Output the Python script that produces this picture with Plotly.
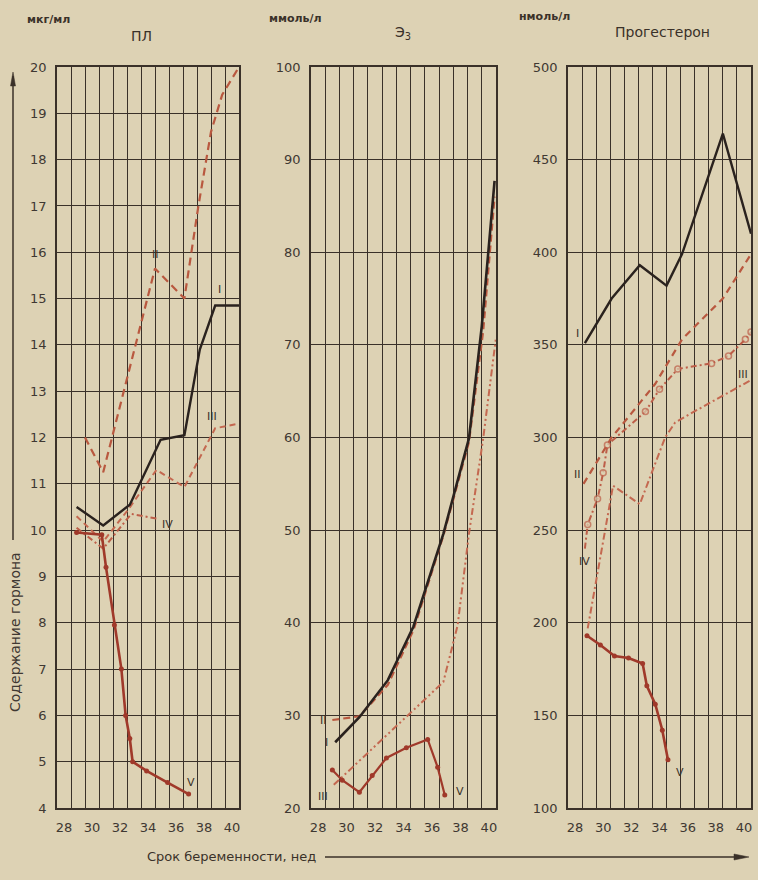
import plotly.graph_objects as go

# ---- data: hormone levels by gestational week ----
# Placental lactogen (ПЛ), мкг/мл
pl_I_wk = [28.9, 30.8, 32.7, 34.9, 36.6, 37.7, 38.8, 40.5]
pl_I_val = [10.5, 10.1, 10.55, 11.95, 12.05, 13.9, 14.85, 14.85]
pl_II_wk = [29.5, 30.8, 34.5, 36.6, 37.6, 38.5, 39.3, 40.5]
pl_II_val = [12.0, 11.25, 15.65, 15.0, 17.0, 18.6, 19.4, 20.0]
pl_III_wk = [28.9, 30.8, 32.6, 34.6, 36.6, 38.8, 40.5]
pl_III_val = [10.3, 9.75, 10.45, 11.3, 10.93, 12.2, 12.3]
pl_IV_wk = [28.9, 30.8, 32.8, 34.6]
pl_IV_val = [10.05, 9.6, 10.35, 10.25]
pl_V_wk = [28.9, 30.7, 31.0, 31.6, 32.1, 32.4, 32.7, 32.9, 33.9, 35.4, 36.9]
pl_V_val = [9.95, 9.9, 9.2, 7.95, 7.0, 6.0, 5.5, 5.0, 4.8, 4.55, 4.3]

# Estriol (Э3), ммоль/л
e3_I_wk = [29.2, 30.9, 32.9, 34.7, 36.8, 38.6, 39.5, 40.4]
e3_I_val = [27.1, 29.8, 33.8, 39.6, 49.6, 59.9, 72.0, 87.7]
e3_II_wk = [29.0, 30.9, 32.9, 34.7, 36.8, 38.6, 39.6, 40.4]
e3_II_val = [29.5, 29.9, 33.3, 39.2, 49.4, 59.5, 71.5, 86.0]
e3_III_wk = [29.1, 36.8, 37.8, 38.6, 39.6, 40.5]
e3_III_val = [22.5, 33.6, 39.7, 49.6, 59.9, 70.8]
e3_V_wk = [29.0, 29.7, 30.9, 31.8, 32.8, 34.2, 35.7, 36.4, 36.9]
e3_V_val = [24.1, 23.0, 21.7, 23.5, 25.4, 26.5, 27.4, 24.4, 21.4]

# Progesterone, нмоль/л
pg_I_wk = [28.7, 30.6, 32.6, 34.5, 35.6, 38.5, 40.5]
pg_I_val = [351, 375, 393, 382, 399, 464, 410]
pg_II_wk = [28.6, 30.6, 32.0, 33.7, 35.6, 38.5, 40.5]
pg_II_val = [275, 300, 313, 329, 353, 375, 399]
pg_III_wk = [28.9, 30.7, 32.6, 34.4, 35.1, 36.7, 40.5]
pg_III_val = [197, 274, 264, 300, 308, 315, 331]
pg_IV_wk = [28.7, 28.9, 29.6, 30.0, 30.3, 33.0, 34.0, 35.3, 37.7, 38.9, 40.1, 40.5]
pg_IV_val = [240, 253, 267, 281, 296, 314, 326, 337, 340, 344, 353, 357]
pg_V_wk = [28.85, 29.8, 30.8, 31.8, 32.8, 33.1, 33.7, 34.2, 34.6]
pg_V_val = [193, 188, 182, 181, 178, 166, 156, 142, 126]

week_ticks = [28, 30, 32, 34, 36, 38, 40]
panel_titles = ["ПЛ", "Э<sub>3</sub>", "Прогестерон"]
panel_units = ["мкг/мл", "ммоль/л", "нмоль/л"]
y_title = "Содержание гормона"
x_title = "Срок беременности, нед"

# ---- styling ----
W, H = 758, 880
PAPER = "#ddd2b4"
INK = "#3a3129"
TXT = "#3f3832"
FONT = "DejaVu Sans"

C_I = "#2a221e"
C_II = "#b9583f"
C_III = "#c46850"
C_IV = "#bd5e48"
C_V = "#a0392a"


def px(x):
    return x / W


def py(y):
    return 1 - y / H


fig = go.Figure()


def add_line(xs, ys, axis, color, width, dash="solid", marker=None):
    kw = dict(x=xs, y=ys, xaxis="x" + axis, yaxis="y" + axis,
              line=dict(color=color, width=width, dash=dash),
              showlegend=False, hoverinfo="skip")
    if marker:
        kw["mode"] = "lines+markers"
        kw["marker"] = marker
    else:
        kw["mode"] = "lines"
    fig.add_trace(go.Scatter(**kw))


dot = dict(size=5, color=C_V)
ring = dict(size=[0] + [6] * (len(pg_IV_wk) - 1), color=PAPER, symbol="circle",
            line=dict(color=C_IV, width=1.5))

# panel 1
add_line(pl_II_wk, pl_II_val, "", C_II, 2.2, "8px,5px")
add_line(pl_III_wk, pl_III_val, "", C_III, 2.0, "6px,4px")
add_line(pl_IV_wk, pl_IV_val, "", C_IV, 2.0, "6px,3px,2px,3px")
add_line(pl_I_wk, pl_I_val, "", C_I, 2.4)
add_line(pl_V_wk, pl_V_val, "", C_V, 2.6, marker=dot)

# panel 2
add_line(e3_II_wk, e3_II_val, "2", C_II, 2.2, "7px,4px")
add_line(e3_I_wk, e3_I_val, "2", C_I, 2.6)
add_line(e3_III_wk, e3_III_val, "2", C_III, 2.0, "7px,3px,2px,3px,2px,3px")
add_line(e3_V_wk, e3_V_val, "2", C_V, 2.2, marker=dot)

# panel 3
add_line(pg_I_wk, pg_I_val, "3", C_I, 2.4)
add_line(pg_II_wk, pg_II_val, "3", C_II, 2.2, "7px,5px")
add_line(pg_III_wk, pg_III_val, "3", C_III, 2.0, "7px,3px,2px,3px")
add_line(pg_IV_wk, pg_IV_val, "3", C_IV, 2.0, "6px,3px,2px,3px", marker=ring)
add_line(pg_V_wk, pg_V_val, "3", C_V, 2.6, marker=dot)

# ---- axes ----
x_domains = [(57, 239), (311, 496), (568, 751)]
y_domain = [py(808), py(67)]
y_specs = [(4, 20, 1), (20, 100, 10), (100, 500, 50)]

layout = dict(
    width=W, height=H,
    margin=dict(l=0, r=0, t=0, b=0, autoexpand=False),
    paper_bgcolor=PAPER, plot_bgcolor=PAPER,
    font=dict(family=FONT, color=TXT),
)
for i in range(3):
    sfx = "" if i == 0 else str(i + 1)
    x0, x1 = x_domains[i]
    lo, hi, step = y_specs[i]
    layout["xaxis" + sfx] = dict(
        domain=[px(x0), px(x1)], range=[27.5, 40.5], anchor="y" + sfx,
        tickvals=week_ticks, ticks="", showgrid=False, zeroline=False,
        showline=True, mirror=True, linecolor=INK, linewidth=1.5,
        tickfont=dict(family=FONT, size=13, color=TXT), ticklabelstandoff=7,
        minor=dict(tick0=27.5, dtick=1, showgrid=True, gridcolor=INK, gridwidth=1, ticks=""),
        fixedrange=True,
    )
    layout["yaxis" + sfx] = dict(
        domain=y_domain, range=[lo, hi], anchor="x" + sfx,
        tick0=lo, dtick=step, ticks="", showgrid=True, gridcolor=INK, gridwidth=1.2,
        zeroline=False, showline=True, mirror=True, linecolor=INK, linewidth=1.5,
        tickfont=dict(family=FONT, size=13, color=TXT), ticklabelstandoff=6,
        fixedrange=True,
    )
fig.update_layout(**layout)

# ---- text ----
ann = []
unit_pos = [(48, 19), (295, 18), (544, 17)]
title_pos = [(141, 36), (403, 33), (662, 32)]
for i in range(3):
    ann.append(dict(x=px(unit_pos[i][0]), y=py(unit_pos[i][1]), xref="paper", yref="paper",
                    xanchor="center", yanchor="middle",
                    text="<b>" + panel_units[i] + "</b>", showarrow=False,
                    font=dict(size=11, color=INK)))
    ann.append(dict(x=px(title_pos[i][0]), y=py(title_pos[i][1]), xref="paper", yref="paper",
                    xanchor="center", yanchor="middle",
                    text=panel_titles[i], showarrow=False,
                    font=dict(size=14, color=INK)))

ann.append(dict(x=px(15), y=py(632), xref="paper", yref="paper", text=y_title,
                xanchor="center", yanchor="middle",
                textangle=-90, showarrow=False, font=dict(size=14, color=TXT)))
ann.append(dict(x=px(231), y=py(856), xref="paper", yref="paper", text=x_title,
                xanchor="center", yanchor="middle",
                showarrow=False, font=dict(size=13, color=INK)))

# curve labels
curve_labels = [
    ("", 34.5, 15.95, "II"), ("", 39.1, 15.2, "I"), ("", 38.6, 12.45, "III"),
    ("", 35.4, 10.12, "IV"), ("", 37.1, 4.55, "V"),
    ("2", 28.35, 29.5, "II"), ("2", 28.6, 27.1, "I"), ("2", 28.35, 21.2, "III"),
    ("2", 38.0, 21.8, "V"),
    ("3", 28.15, 356, "I"), ("3", 28.15, 280, "II"), ("3", 28.7, 233, "IV"),
    ("3", 39.9, 334, "III"), ("3", 35.45, 119, "V"),
]
for sfx, x, y, t in curve_labels:
    ann.append(dict(x=x, y=y, xref="x" + sfx, yref="y" + sfx, text=t, showarrow=False,
                    xanchor="center", yanchor="middle",
                    font=dict(size=11, color=INK)))

# axis arrows drawn as shapes
shapes = [
    dict(type="line", xref="paper", yref="paper", x0=px(13), x1=px(13),
         y0=py(540), y1=py(76), line=dict(color=INK, width=1.5)),
    dict(type="path", xref="paper", yref="paper",
         path=f"M {px(10.5)},{py(86)} L {px(13)},{py(72)} L {px(15.5)},{py(86)} Z",
         fillcolor=INK, line=dict(color=INK, width=0.5)),
    dict(type="line", xref="paper", yref="paper", x0=px(325), x1=px(738),
         y0=py(857), y1=py(857), line=dict(color=INK, width=1.5)),
    dict(type="path", xref="paper", yref="paper",
         path=f"M {px(734)},{py(854)} L {px(749)},{py(857)} L {px(734)},{py(860)} Z",
         fillcolor=INK, line=dict(color=INK, width=0.5)),
]

fig.update_layout(annotations=ann, shapes=shapes)
fig.write_html("out.html", post_script="document.body.style.margin='0';")
